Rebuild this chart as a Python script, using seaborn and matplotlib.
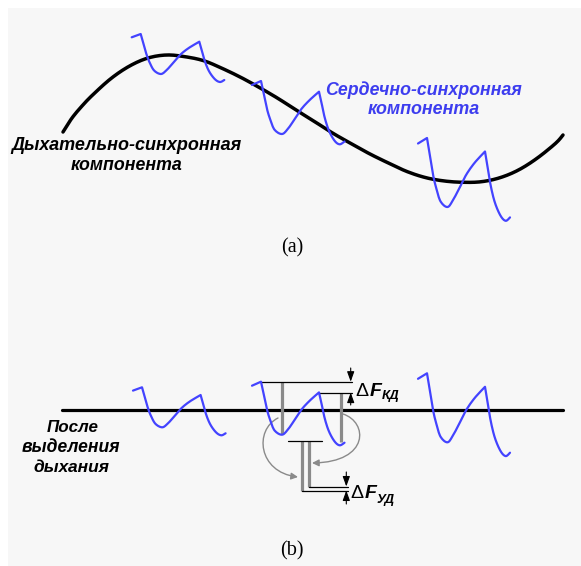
import matplotlib
matplotlib.use("Agg")
import numpy as np
import matplotlib.pyplot as plt
import seaborn as sns
from matplotlib.path import Path
from matplotlib.patches import FancyArrowPatch, Rectangle

sns.set_theme(style="white")
plt.rcParams['font.family'] = ['Liberation Sans', 'DejaVu Sans']

# ---------------- data (pixel units) ----------------
# (a) respiratory-synchronous component
resp_x = [63, 72, 82, 92.6, 111, 129.6, 148, 166.7, 185, 203.7, 222, 240.7, 259, 277.8, 296,
          314.8, 333, 351.8, 370, 389, 407.4, 426, 444.4, 463, 481.5, 500, 518.5, 537, 555.6, 563]
resp_y = [132, 118, 106, 95, 78.5, 66, 58, 55, 56.7, 60.7, 68.3, 77.3, 87.3, 98.3, 110,
          121.7, 133.3, 144, 154, 163.3, 171.7, 177.7, 181, 182.3, 181.7, 177.7, 170, 158.3, 143.3, 135]

# (a) cardiac-synchronous component, three beats
beat_a1_x = [131.7, 140.7, 143.3, 146.7, 150, 154.3, 161, 166.7, 173.3, 180, 188.3, 199.3,
             201.7, 205, 209.3, 215, 220, 224.3]
beat_a1_y = [37.3, 34, 43.3, 55, 63.3, 70.7, 74, 70, 62.7, 55, 48.3, 41.7,
             50, 61.7, 71.7, 79.3, 82, 80]
beat_a2_x = [252, 261, 263.6, 267, 270.3, 274.6, 282, 288, 294.6, 301.3, 309.6, 319,
             321.4, 324.7, 329, 334.7, 339.7, 344.5]
beat_a2_y = [85, 81, 93.2, 109, 119.7, 129.8, 134, 128.7, 119.2, 109.1, 100.1, 91.7,
             102.2, 117.6, 130.8, 140.9, 144.3, 141.5]
beat_a3_x = [418, 427, 429.6, 433, 436.3, 440.6, 447.5, 453, 459.6, 466.3, 474.6, 485,
             487.4, 490.7, 495, 500.7, 505.7, 510]
beat_a3_y = [143.5, 138, 153.9, 174.6, 188.4, 201.5, 207, 200.1, 187.7, 174.6, 162.8, 151.5,
             165.6, 185.6, 202.9, 216, 220.8, 217.4]

# (b) after removal of respiration
base_x = [62, 563]
base_y = [410, 410]
beat_b1_x = [133, 142, 144.6, 148, 151.3, 155.6, 162.3, 168, 174.6, 181.3, 189.6, 200.6,
             203, 206.3, 210.6, 216.3, 221.3, 225.6]
beat_b1_y = [390.6, 387.3, 396.6, 408.3, 416.6, 424, 427.3, 423.3, 416, 408.3, 401.6, 395,
             403.3, 415, 425, 432.6, 435.3, 433.3]
beat_b2_x = [252, 261, 263.6, 267, 270.3, 274.6, 282, 288, 294.6, 301.3, 309.6, 319,
             321.4, 324.7, 329, 334.7, 339.7, 344.5]
beat_b2_y = [385.7, 381.7, 393.9, 409.7, 420.4, 430.5, 434.7, 429.4, 419.9, 409.8, 400.8, 392.4,
             402.9, 418.3, 431.5, 441.6, 445.3, 442.7]
beat_b3_x = [418, 427, 429.6, 433, 436.3, 440.6, 447.5, 453, 459.6, 466.3, 474.6, 485,
             487.4, 490.7, 495, 500.7, 505.7, 510]
beat_b3_y = [378.8, 373.3, 389.2, 409.9, 423.7, 436.8, 442.3, 435.4, 423, 409.9, 398.1, 386.8,
             400.9, 420.9, 438.2, 451.3, 456.1, 452.7]

# amplitude bars (x position, top, bottom)
amp_bar_x = [282.2, 340.7]
amp_bar_top = [381.7, 392.6]
amp_bar_bot = [434.3, 442.3]
# amplitude bars moved side by side for comparison
cmp_bar_x = [301.5, 308.5]
cmp_bar_top = [441, 441]
cmp_bar_bot = [490.5, 486.5]

labels_a = ["Дыхательно-синхронная", "компонента"]
labels_card = ["Сердечно-синхронная", "компонента"]
labels_b = ["После", "выделения", "дыхания"]
sub_kd = "КД"
sub_ud = "УД"
panel_tags = ["(a)", "(b)"]

BLUE = "#4343ff"
BLUE_TXT = "#3d3def"
GRAY = "#8a8a8a"
CORNERS = (1, 11)  # sharp peaks inside each beat trace (indices)

# ---------------- figure ----------------
fig = plt.figure(figsize=(5.81, 5.66), dpi=100)
fig.patch.set_facecolor("white")
ax = fig.add_axes([0, 0, 1, 1])
ax.set_xlim(0, 581)
ax.set_ylim(566, 0)
ax.axis("off")
ax.add_patch(Rectangle((8, 8), 573, 558, fc="#f7f7f7", ec="none", zorder=0))


def smooth_path(xs, ys, corners=(), n=8):
    """Catmull-Rom drawing curve through the given points, kept sharp at corners."""
    pts = np.column_stack([xs, ys]).astype(float)
    cuts = [0] + list(corners) + [len(pts) - 1]
    out = []
    for a, b in zip(cuts[:-1], cuts[1:]):
        seg = pts[a:b + 1]
        ext = np.vstack([seg[0], seg, seg[-1]])
        for i in range(1, len(ext) - 2):
            p0, p1, p2, p3 = ext[i - 1], ext[i], ext[i + 1], ext[i + 2]
            t = np.linspace(0, 1, n, endpoint=False)[:, None]
            c = 0.5 * ((2 * p1) + (-p0 + p2) * t + (2 * p0 - 5 * p1 + 4 * p2 - p3) * t ** 2
                       + (-p0 + 3 * p1 - 3 * p2 + p3) * t ** 3)
            out.append(c)
    out.append(pts[-1:])
    c = np.vstack(out)
    return c[:, 0], c[:, 1]


# (a)
sx, sy = smooth_path(resp_x, resp_y)
sns.lineplot(x=sx, y=sy, sort=False, estimator=None, color="black", lw=2.5, ax=ax, zorder=2)
for bx, by in [(beat_a1_x, beat_a1_y), (beat_a2_x, beat_a2_y), (beat_a3_x, beat_a3_y)]:
    sx, sy = smooth_path(bx, by, CORNERS)
    sns.lineplot(x=sx, y=sy, sort=False, estimator=None, color=BLUE, lw=1.6, ax=ax, zorder=3)

# (b)
sns.lineplot(x=base_x, y=base_y, sort=False, estimator=None, color="black", lw=2.3, ax=ax, zorder=2)
for bx, by in [(beat_b1_x, beat_b1_y), (beat_b2_x, beat_b2_y), (beat_b3_x, beat_b3_y)]:
    sx, sy = smooth_path(bx, by, CORNERS)
    sns.lineplot(x=sx, y=sy, sort=False, estimator=None, color=BLUE, lw=1.6, ax=ax, zorder=4)

# amplitude bars
for x, t, b in zip(amp_bar_x, amp_bar_top, amp_bar_bot):
    ax.plot([x, x], [t, b], color=GRAY, lw=2.3, solid_capstyle="butt", zorder=3)
for x, t, b in zip(cmp_bar_x, cmp_bar_top, cmp_bar_bot):
    ax.plot([x, x], [t, b], color=GRAY, lw=2.3, solid_capstyle="butt", zorder=3)

# thin reference lines
thin = dict(color="black", lw=0.9, zorder=3)
ax.plot([261, 352], [amp_bar_top[0]] * 2, **thin)
ax.plot([319, 352], [amp_bar_top[1]] * 2, **thin)
ax.plot([288, 321.5], [cmp_bar_top[0]] * 2, **thin)
ax.plot([cmp_bar_x[0], 348], [cmp_bar_bot[0]] * 2, **thin)
ax.plot([cmp_bar_x[1], 348], [cmp_bar_bot[1]] * 2, **thin)


def dim_arrow(x, y0, y1):
    ax.annotate("", xy=(x, y1), xytext=(x, y0),
                arrowprops=dict(arrowstyle="-|>,head_length=0.5,head_width=0.18", color="black",
                                lw=0.8, shrinkA=0, shrinkB=0), zorder=5)


dim_arrow(350.7, 368, amp_bar_top[0])
dim_arrow(350.7, 405, amp_bar_top[1])
dim_arrow(346.3, 472, cmp_bar_bot[1])
dim_arrow(346.3, 504, cmp_bar_bot[0])

# curved gray arrows
curve_left = [(278, 418), (254, 430), (258, 472), (298, 477)]
curve_right = [(343, 414), (368, 422), (370, 462), (312, 463)]
for pts in (curve_left, curve_right):
    p = Path(pts, [Path.MOVETO, Path.CURVE4, Path.CURVE4, Path.CURVE4])
    ax.add_patch(FancyArrowPatch(path=p, arrowstyle="-|>,head_length=4,head_width=2",
                                 color=GRAY, lw=1.0, zorder=2, transform=ax.transData))

renderer = fig.canvas.get_renderer()


def fit_text(s, xc, yc, width, **kw):
    t = ax.text(xc, yc, s, ha="center", va="center", fontsize=12, **kw)
    bb = t.get_window_extent(renderer)
    t.set_fontsize(12 * width / bb.width)
    return t


bi = dict(fontweight="bold", fontstyle="italic")
fit_text(labels_a[0], 126, 145, 230, color="black", **bi)
fit_text(labels_a[1], 127, 165, 111, color="black", **bi)
fit_text(labels_card[0], 424, 90, 196, color=BLUE_TXT, **bi)
fit_text(labels_card[1], 424, 110, 112, color=BLUE_TXT, **bi)
fit_text(labels_b[0], 73, 428, 52, color="black", **bi)
fit_text(labels_b[1], 71, 448, 98, color="black", **bi)
fit_text(labels_b[2], 71, 468, 76, color="black", **bi)


# delta F labels: pieces placed one after another without overlapping
def delta_label(x, yb, sub, dsub):
    t1 = ax.text(x, yb, "Δ", ha="left", va="baseline", fontsize=14, color="black")
    x2 = ax.transData.inverted().transform(
        (t1.get_window_extent(renderer).x1 + 1, 0))[0]
    t2 = ax.text(x2, yb, "F", ha="left", va="baseline", fontsize=14, color="black", **bi)
    x3 = ax.transData.inverted().transform(
        (t2.get_window_extent(renderer).x1 + 0.5, 0))[0]
    ax.text(x3, yb + dsub, sub, ha="left", va="baseline", fontsize=9.5, color="black", **bi)


delta_label(355.5, 396, sub_kd, 3.5)
delta_label(350.5, 498.5, sub_ud, 4)

ax.text(292, 248, panel_tags[0], ha="center", va="center", fontsize=14.5,
        family="Liberation Serif", color="black")
ax.text(292, 551, panel_tags[1], ha="center", va="center", fontsize=14.5,
        family="Liberation Serif", color="black")

fig.savefig("out.png", dpi=100, facecolor="white")
